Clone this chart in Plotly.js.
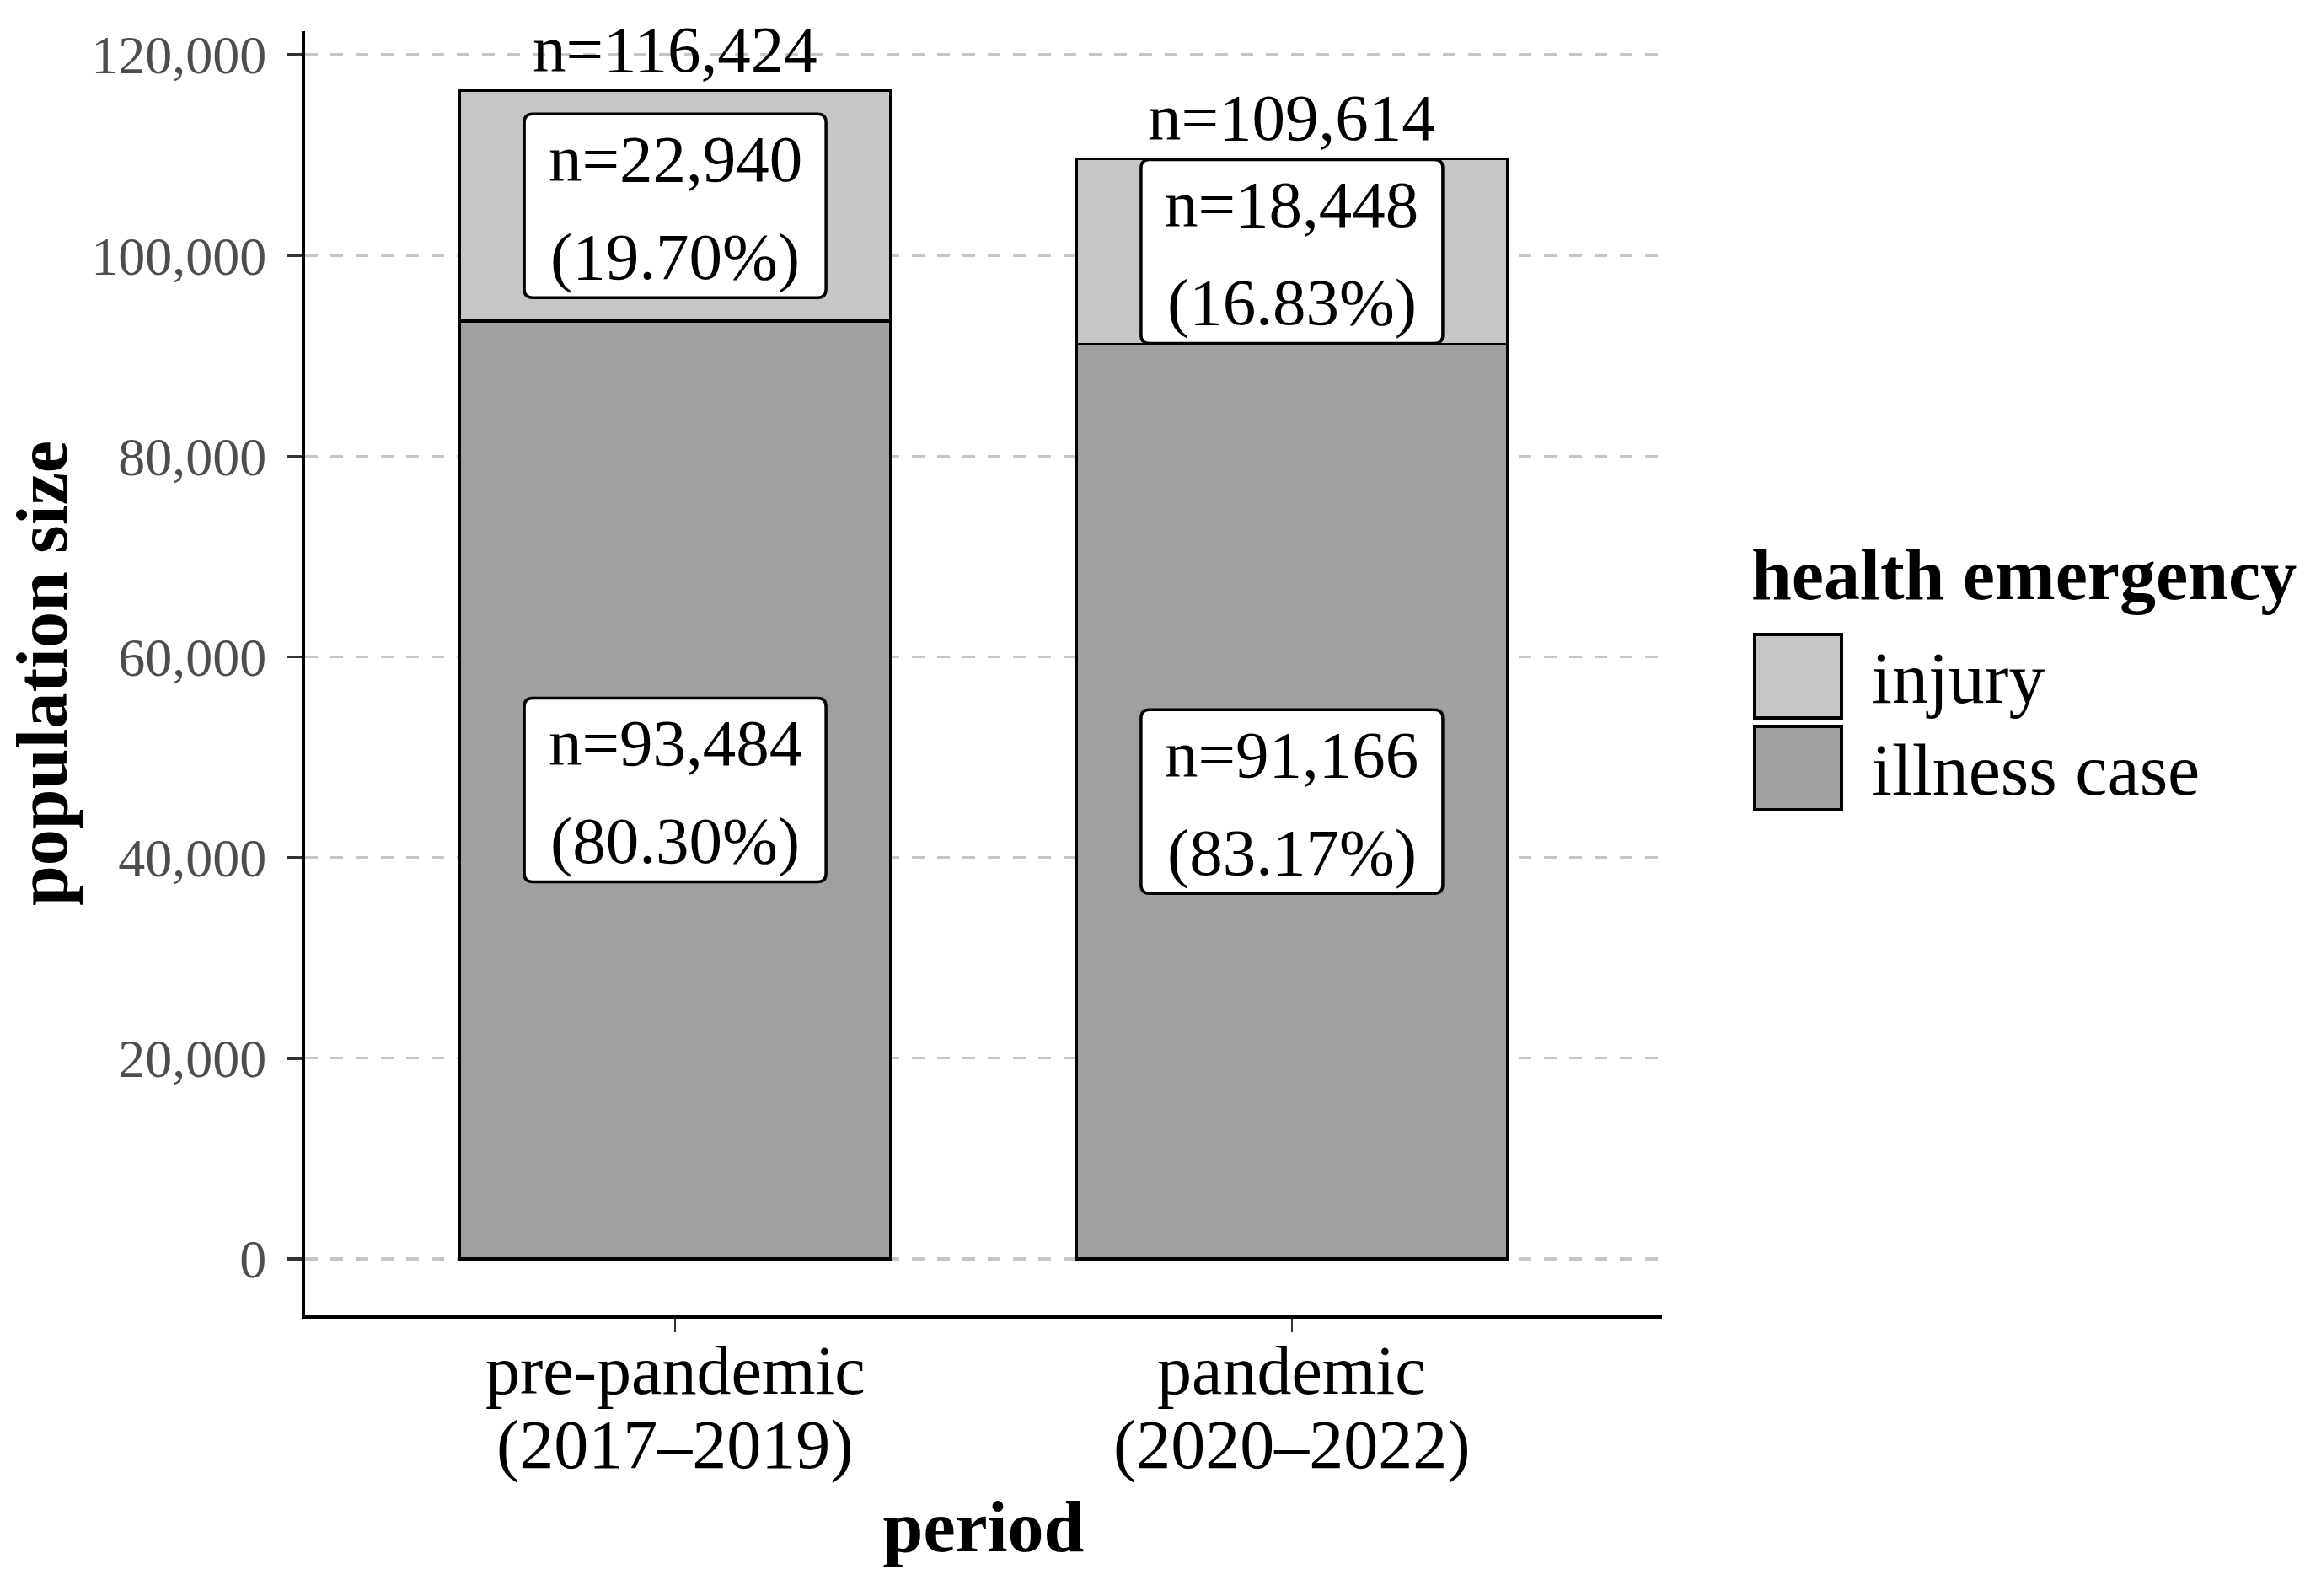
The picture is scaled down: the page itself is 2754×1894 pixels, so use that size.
<!DOCTYPE html>
<html>
<head>
<meta charset="utf-8">
<script src="https://cdn.plot.ly/plotly-3.0.1.min.js"></script>
<style>
  html, body { margin: 0; padding: 0; background: #ffffff; }
  #chart { width: 2754px; height: 1894px; }
</style>
</head>
<body>
<div id="chart"></div>
<script>
// ---- data ----
const periods = ['pre-pandemic', 'pandemic'];
const periodYears = ['(2017–2019)', '(2020–2022)'];
const illnessCases = [93484, 91166];
const injuryCases = [22940, 18448];
const totalCases = [116424, 109614];
const illnessPct = [80.30, 83.17];
const injuryPct = [19.70, 16.83];
const seriesNames = ['injury', 'illness case'];
const yTickValues = [0, 20000, 40000, 60000, 80000, 100000, 120000];

// ---- styles ----
const FONT = 'Liberation Serif, Times New Roman, Times, serif';
const injuryColor = '#C6C6C6';
const illnessColor = '#A0A0A0';
const seriesColors = [injuryColor, illnessColor];

const fmt = n => n.toLocaleString('en-US');

const traces = [
  {
    type: 'bar', name: seriesNames[1], x: periods, y: illnessCases, width: 0.7,
    marker: { color: illnessColor, line: { color: '#000000', width: 3.5 } },
    hoverinfo: 'skip', showlegend: false
  },
  {
    type: 'bar', name: seriesNames[0], x: periods, y: injuryCases, width: 0.7,
    marker: { color: injuryColor, line: { color: '#000000', width: 3.5 } },
    hoverinfo: 'skip', showlegend: false
  }
];

// plot area in pixels
const PL = 362, PR = 1972, PT = 37, PB = 1561;
const PW = PR - PL, PH = PB - PT;
const px = v => (v - PL) / PW;
const py = v => 1 - (v - PT) / PH;

// label boxes (rounded rectangles, pixel-sized, anchored at segment middles)
const W = 179, H = 109, R = 10;
const roundRect = `M ${-W + R},${-H} L ${W - R},${-H} Q ${W},${-H} ${W},${-H + R} L ${W},${H - R} Q ${W},${H} ${W - R},${H} L ${-W + R},${H} Q ${-W},${H} ${-W},${H - R} L ${-W},${-H + R} Q ${-W},${-H} ${-W + R},${-H} Z`;

const shapes = [];
const annotations = [];
const labelFont = { family: FONT, size: 79, color: '#000000' };
const tickFont = { family: FONT, size: 82, color: '#000000' };

periods.forEach((p, i) => {
  const segs = [
    { mid: illnessCases[i] / 2, n: illnessCases[i], pct: illnessPct[i] },
    { mid: illnessCases[i] + injuryCases[i] / 2, n: injuryCases[i], pct: injuryPct[i] }
  ];
  segs.forEach(s => {
    shapes.push({
      type: 'path', xref: 'x', yref: 'y',
      xsizemode: 'pixel', ysizemode: 'pixel',
      xanchor: p, yanchor: s.mid,
      path: roundRect,
      fillcolor: '#ffffff', line: { color: '#000000', width: 3.5 }, layer: 'above'
    });
    annotations.push({
      xref: 'x', yref: 'y', x: p, y: s.mid, text: 'n=' + fmt(s.n),
      showarrow: false, xanchor: 'center', yanchor: 'middle', yshift: 56, font: labelFont
    });
    annotations.push({
      xref: 'x', yref: 'y', x: p, y: s.mid, text: '(' + s.pct.toFixed(2) + '%)',
      showarrow: false, xanchor: 'center', yanchor: 'middle', yshift: -60, font: labelFont
    });
  });
  // totals above bars
  annotations.push({
    xref: 'x', yref: 'y', x: p, y: totalCases[i], text: 'n=' + fmt(totalCases[i]),
    showarrow: false, xanchor: 'center', yanchor: 'bottom', yshift: 4, font: labelFont
  });
  // category labels (two lines, tight line spacing as in the reference)
  annotations.push({
    xref: 'x', yref: 'paper', x: p, y: py(1627), text: p,
    showarrow: false, xanchor: 'center', yanchor: 'middle', font: tickFont
  });
  annotations.push({
    xref: 'x', yref: 'paper', x: p, y: py(1714), text: periodYears[i],
    showarrow: false, xanchor: 'center', yanchor: 'middle', font: tickFont
  });
});

// ---- legend (large keys like the reference) ----
annotations.push({
  xref: 'paper', yref: 'paper', x: px(2076), y: py(682), text: 'health emergency',
  showarrow: false, xanchor: 'left', yanchor: 'middle',
  font: { family: FONT, size: 86, color: '#000000', weight: 'bold' }
});
const keyTop = [753, 862];
seriesNames.forEach((name, k) => {
  shapes.push({
    type: 'rect', xref: 'paper', yref: 'paper',
    x0: px(2082), x1: px(2185), y0: py(keyTop[k]), y1: py(keyTop[k] + 99),
    fillcolor: seriesColors[k], line: { color: '#000000', width: 4 }, layer: 'above'
  });
  annotations.push({
    xref: 'paper', yref: 'paper', x: px(2219), y: py(keyTop[k] + 52), text: name,
    showarrow: false, xanchor: 'left', yanchor: 'middle',
    font: { family: FONT, size: 86, color: '#000000' }
  });
});

const layout = {
  width: 2754, height: 1894,
  margin: { l: PL, r: 2754 - PR, t: PT, b: 1894 - PB, pad: 0 },
  paper_bgcolor: '#ffffff', plot_bgcolor: '#ffffff',
  barmode: 'stack', bargap: 0.3,
  showlegend: false,
  font: { family: FONT, color: '#000000' },
  xaxis: {
    type: 'category', range: [-0.6, 1.6],
    tickvals: periods, showticklabels: false,
    showline: true, linecolor: '#000000', linewidth: 4,
    ticks: 'outside', ticklen: 16, tickwidth: 2, tickcolor: '#333333',
    showgrid: false, zeroline: false,
    title: { text: 'period', font: { family: FONT, size: 86, color: '#000000', weight: 'bold' }, standoff: 202 },
    automargin: false, fixedrange: true
  },
  yaxis: {
    range: [-5626, 122351],
    tickvals: yTickValues, tickformat: ',d',
    tickfont: { family: FONT, size: 64, color: '#4D4D4D' },
    showline: true, linecolor: '#000000', linewidth: 4,
    ticks: 'outside', ticklen: 17, tickwidth: 3.5, tickcolor: '#333333',
    ticklabelstandoff: 12,
    showgrid: true, gridcolor: '#C6C6C6', gridwidth: 3.3, griddash: '15px,15px',
    zeroline: false,
    title: { text: 'population size', font: { family: FONT, size: 86, color: '#000000', weight: 'bold' }, standoff: 1 },
    automargin: false, fixedrange: true
  },
  shapes: shapes,
  annotations: annotations
};

Plotly.newPlot('chart', traces, layout, { staticPlot: true, displayModeBar: false });
</script>
</body>
</html>
